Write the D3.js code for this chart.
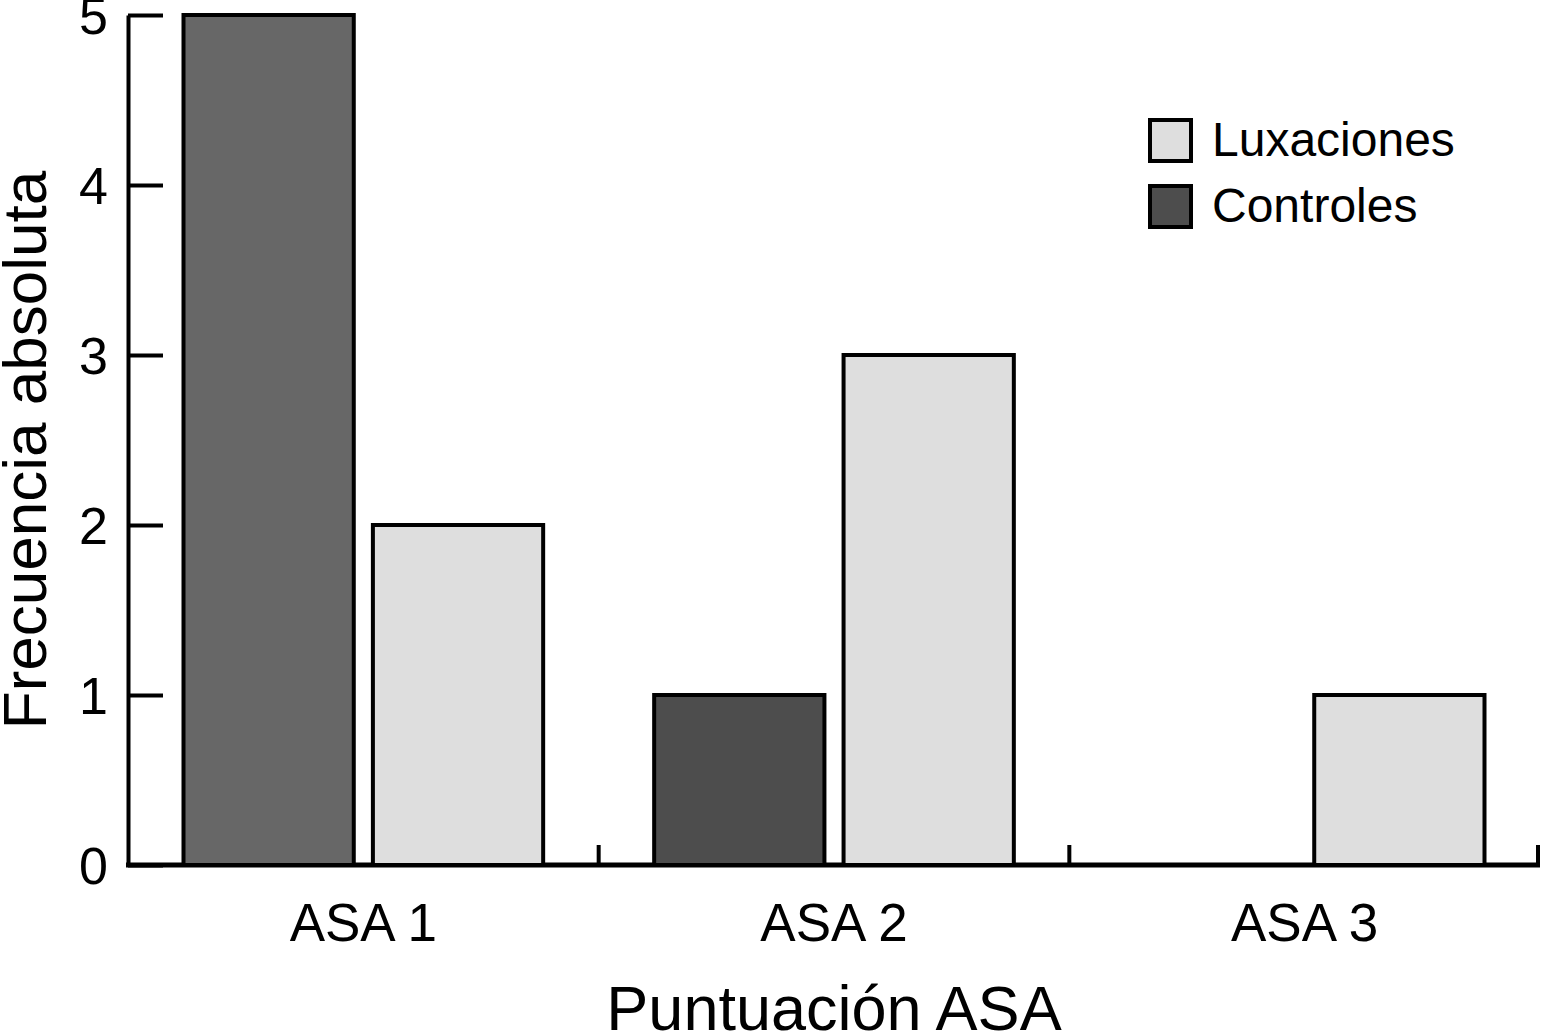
<!DOCTYPE html>
<html><head><meta charset="utf-8">
<script src="https://cdn.jsdelivr.net/npm/d3@7"></script>
<style>body{margin:0;background:#fff}svg{display:block}text{font-family:"Liberation Sans",Arial,sans-serif}</style>
</head><body>
<svg id="c" width="1544" height="1031"></svg>
<script>
const categories = ["ASA 1", "ASA 2", "ASA 3"];
const seriesNames = ["Controles", "Luxaciones"];
const controles = [5, 1, 0];
const luxaciones = [2, 3, 1];
const yTicks = [0, 1, 2, 3, 4, 5];

(function(){
const svg = d3.select("#c");
const mLeft = 128, mRight = 1540, mTop = 15, mBottom = 865;

const x = d3.scaleBand().domain(categories).range([mLeft, mRight]).padding(0);
const xs = d3.scaleBand().domain(seriesNames).range([55.5, x.bandwidth() - 55.5]).paddingInner(0.101).paddingOuter(0);
const y = d3.scaleLinear().domain([0, 5]).range([mBottom, mTop]);

const fills = {Luxaciones: "#dedede", Controles: ["#676767", "#4d4d4d", "#4d4d4d"]};
const data = [];
categories.forEach((c, i) => {
  data.push({cat: c, s: "Controles", v: controles[i], i});
  data.push({cat: c, s: "Luxaciones", v: luxaciones[i], i});
});

const xAxis = d3.axisBottom(x).tickSize(0).tickPadding(38);
const gx = svg.append("g").attr("transform", `translate(0,${mBottom})`).call(xAxis);
gx.select(".domain").attr("stroke", "#000").attr("stroke-width", 5).attr("d", `M${mLeft - 2},0H${mRight}`);
gx.selectAll(".tick text").attr("font-size", 53).attr("fill", "#000");

svg.selectAll("rect.bar").data(data).enter().append("rect")
  .attr("class", "bar")
  .attr("x", d => x(d.cat) + xs(d.s))
  .attr("y", d => y(d.v) - (d.v === 0 ? 2 : 0))
  .attr("width", xs.bandwidth())
  .attr("height", d => y(0) - y(d.v))
  .attr("fill", d => d.s === "Luxaciones" ? fills.Luxaciones : fills.Controles[d.i])
  .attr("stroke", "#000").attr("stroke-width", 4);

const yAxis = d3.axisLeft(y).tickValues(yTicks).tickSizeInner(-35).tickSizeOuter(0).tickPadding(20).tickFormat(d3.format("d"));
const gy = svg.append("g").attr("transform", `translate(${mLeft},0)`).call(yAxis);
gy.select(".domain").attr("stroke", "#000").attr("stroke-width", 4);
gy.selectAll(".tick line").attr("stroke", "#000").attr("stroke-width", 4);
gy.selectAll(".tick text").attr("font-size", 52).attr("fill", "#000").attr("dy", "0.36em");

const bounds = categories.map(c => Math.min(x(c) + x.bandwidth(), mRight - 2));
svg.append("g").selectAll("line").data(bounds).enter().append("line")
  .attr("x1", d => d).attr("x2", d => d)
  .attr("y1", mBottom).attr("y2", mBottom - 20)
  .attr("stroke", "#000").attr("stroke-width", 4);

svg.append("text").attr("x", 834).attr("y", 1030).attr("text-anchor", "middle")
  .attr("font-size", 63).attr("fill", "#000").text("Puntuación ASA");
svg.append("text").attr("transform", "translate(46,450) rotate(-90)").attr("text-anchor", "middle")
  .attr("font-size", 62).attr("fill", "#000").text("Frecuencia absoluta");

const legend = [{s: "Luxaciones", fill: "#dedede"}, {s: "Controles", fill: "#4d4d4d"}];
const lg = svg.append("g").attr("transform", "translate(1150,120)");
legend.forEach((d, i) => {
  lg.append("rect").attr("x", 0).attr("y", i * 66).attr("width", 41).attr("height", 41)
    .attr("fill", d.fill).attr("stroke", "#000").attr("stroke-width", 4);
  lg.append("text").attr("x", 62).attr("y", i * 66 + 36).attr("font-size", 48).attr("fill", "#000").text(d.s);
});
})();
</script>
</body></html>
